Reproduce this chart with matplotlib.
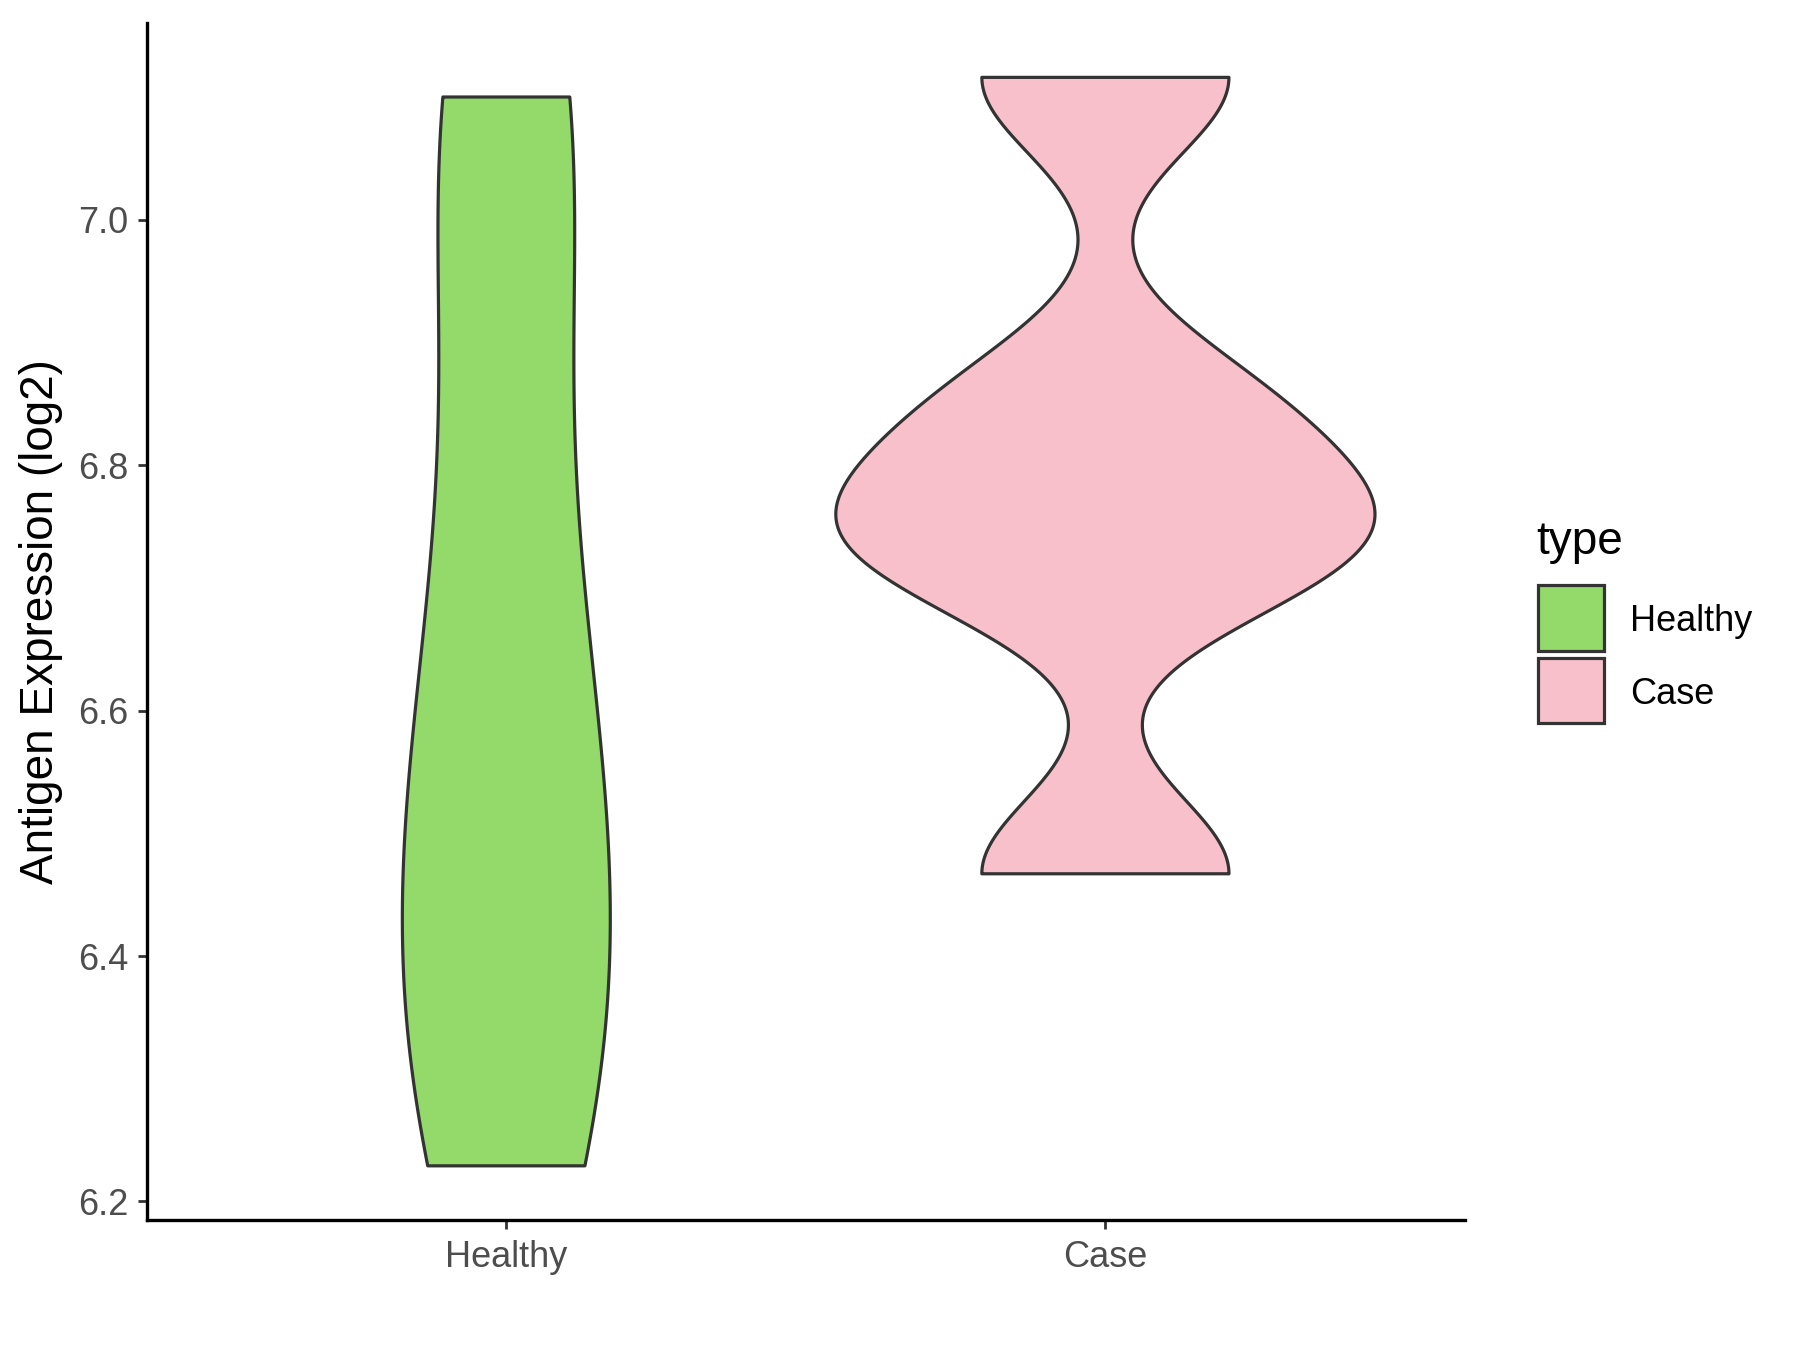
import numpy as np
import matplotlib.pyplot as plt
from matplotlib.patches import Rectangle

# data (log2 antigen expression per sample)
groups = ["Healthy", "Case"]
healthy = [6.229, 6.229, 6.30, 6.38, 6.45, 6.50, 6.56, 6.65, 6.76, 6.90,
           7.10, 7.10, 7.10]
case = [6.467, 6.72, 6.76, 6.85, 7.116]
colors = ["#93DA6A", "#F8C0CB"]
yticks = [6.2, 6.4, 6.6, 6.8, 7.0]

plt.rcParams['font.family'] = ['Liberation Sans', 'DejaVu Sans']


def bw_nrd0(x):
    # same rule as R's default bandwidth
    x = np.asarray(x)
    sd = np.std(x, ddof=1)
    q1, q3 = np.percentile(x, [25, 75])
    lo = min(sd, (q3 - q1) / 1.34)
    return 0.9 * lo * len(x) ** -0.2


def trimmed_kde(x, n=512):
    x = np.asarray(x)
    h = bw_nrd0(x)
    grid = np.linspace(x.min(), x.max(), n)
    d = np.exp(-0.5 * ((grid[:, None] - x[None, :]) / h) ** 2).sum(axis=1)
    d /= len(x) * h * np.sqrt(2 * np.pi)
    return grid, d


fig = plt.figure(figsize=(18, 13.5), dpi=100)
ax = fig.add_axes([0.0816, 0.0961, 0.8138 - 0.0816, 0.983 - 0.0961])

dens = [trimmed_kde(v) for v in (healthy, case)]
dmax = max(d.max() for _, d in dens)

for i, (grid, d) in enumerate(dens):
    pos = i + 1
    hw = 0.45 * d / dmax
    xs = np.concatenate([pos - hw, (pos + hw)[::-1]])
    ys = np.concatenate([grid, grid[::-1]])
    ax.fill(xs, ys, facecolor=colors[i], edgecolor="#333333", linewidth=2.3,
            joinstyle="round")

# ggplot style expansion
allv = np.concatenate([healthy, case])
rng = allv.max() - allv.min()
ax.set_ylim(allv.min() - 0.05 * rng, allv.max() + 0.05 * rng)
ax.set_xlim(0.4, 2.6)

ax.set_xticks([1, 2])
ax.set_xticklabels(groups)
ax.set_yticks(yticks)
ax.set_yticklabels([f"{t:.1f}" for t in yticks])
ax.tick_params(axis="both", colors="#333333", labelcolor="#4D4D4D",
               labelsize=26, length=6.5, width=2.0)
ax.tick_params(axis="x", pad=8)
ax.tick_params(axis="y", pad=7)

for s in ["top", "right"]:
    ax.spines[s].set_visible(False)
for s in ["left", "bottom"]:
    ax.spines[s].set_linewidth(2.4)
    ax.spines[s].set_color("black")

fig.text(0.0230, 0.5395, "Antigen Expression (log2)", rotation=90,
         ha="center", va="center", fontsize=33, color="black")

# legend drawn by hand
fig.text(0.8533, 0.5986, "type", ha="left", va="center", fontsize=33)
key_y = [0.5179, 0.4643]
for i, g in enumerate(groups):
    fig.add_artist(Rectangle((0.8546, key_y[i]), 0.03635, 0.04847,
                             transform=fig.transFigure, facecolor=colors[i],
                             edgecolor="#333333", linewidth=2.3))
    fig.text(0.9056, key_y[i] + 0.0216, g, ha="left", va="center",
             fontsize=26)

fig.savefig("out.png", dpi=100)
